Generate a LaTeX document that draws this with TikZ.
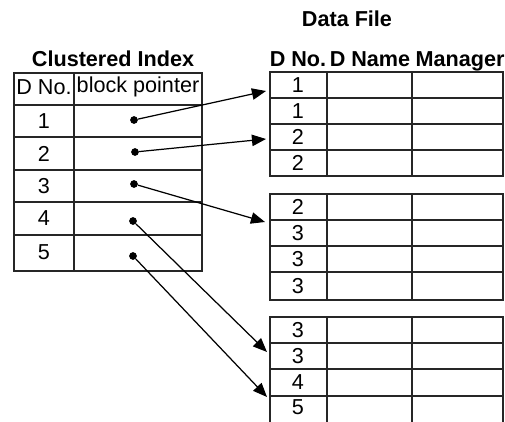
\documentclass[tikz,border=0pt]{standalone}
\usepackage{fontspec}
\setmainfont{Liberation Sans}
\usepackage{tikz}
\usetikzlibrary{arrows.meta,positioning}

\begin{document}
\begin{tikzpicture}[x=0.02cm, y=-0.02cm, font=\fontsize{12.3}{14}\selectfont,
  grid/.style={line width=0.9pt, black!85},
  title/.style={font=\fontsize{12.3}{14}\selectfont\bfseries, anchor=base},
  dot/.style={circle, fill, inner sep=0pt, minimum size=4.4pt},
  link/.style={-{Triangle[length=8pt,width=6.5pt]}, line width=0.7pt}]

\useasboundingbox (0,0) rectangle (505,422);

% Titles
\node[title] (dftitle) at (347,27) {Data File};
\node[title] (cititle) at (113,67) {Clustered Index};
\node[title] (hdno) at (298,67) {D No.};
\node[title] (hdname) at (370,67) {D Name};
\node[title] (hmgr) at (460,67) {Manager};

% Clustered index table
\draw[grid] (14,73) rectangle (202,271);
\draw[grid] (74,73) -- (74,271);
\draw[grid] (14,105) -- (202,105);
\draw[grid] (14,137) -- (202,137);
\draw[grid] (14,170) -- (202,170);
\draw[grid] (14,202) -- (202,202);
\draw[grid] (14,235) -- (202,235);
\node[anchor=base] (ixno) at (44,95) {D No.};
\node[anchor=base] (ixbp) at (138,93) {block pointer};
\node (ix1) at (44,121) {1};
\node (ix2) at (44,153.5) {2};
\node (ix3) at (44,186) {3};
\node (ix4) at (44,218.5) {4};
\node (ix5) at (44,252) {5};

% Data file, block 1
\draw[grid] (270,72) rectangle (503,176);
\draw[grid] (327,72) -- (327,176);
\draw[grid] (412,72) -- (412,176);
\draw[grid] (270,98) -- (503,98);
\draw[grid] (270,124) -- (503,124);
\draw[grid] (270,150) -- (503,150);
\node (a1) at (298,85) {1};
\node (a2) at (298,111) {1};
\node (a3) at (298,137) {2};
\node (a4) at (298,163) {2};

% Data file, block 2
\draw[grid] (270,194) rectangle (503,300);
\draw[grid] (327,194) -- (327,300);
\draw[grid] (412,194) -- (412,300);
\draw[grid] (270,220) -- (503,220);
\draw[grid] (270,246) -- (503,246);
\draw[grid] (270,272) -- (503,272);
\node (b1) at (298,207) {2};
\node (b2) at (298,233) {3};
\node (b3) at (298,259) {3};
\node (b4) at (298,286) {3};

% Data file, block 3 (runs off the bottom)
\draw[grid] (270,422) -- (270,317) -- (503,317) -- (503,422);
\draw[grid] (327,317) -- (327,422);
\draw[grid] (412,317) -- (412,422);
\draw[grid] (270,343) -- (503,343);
\draw[grid] (270,369) -- (503,369);
\draw[grid] (270,396) -- (503,396);
\node (c1) at (298,330) {3};
\node (c2) at (298,356) {3};
\node (c3) at (298,382) {4};
\node (c4) at (298,407) {5};

% Block pointers
\node[dot] (p1) at (134,120) {};
\node[dot] (p2) at (135,152) {};
\node[dot] (p3) at (134,184) {};
\node[dot] (p4) at (133,221) {};
\node[dot] (p5) at (133,256) {};

\coordinate (t1) at (266,91);
\coordinate (t2) at (266,139);
\coordinate (t3) at (265,222);
\coordinate (t4) at (267,352);
\coordinate (t5) at (267,397);

\draw[link] (p1) -- (t1);
\draw[link] (p2) -- (t2);
\draw[link] (p3) -- (t3);
\draw[link] (p4) -- (t4);
\draw[link] (p5) -- (t5);

\end{tikzpicture}
\end{document}
